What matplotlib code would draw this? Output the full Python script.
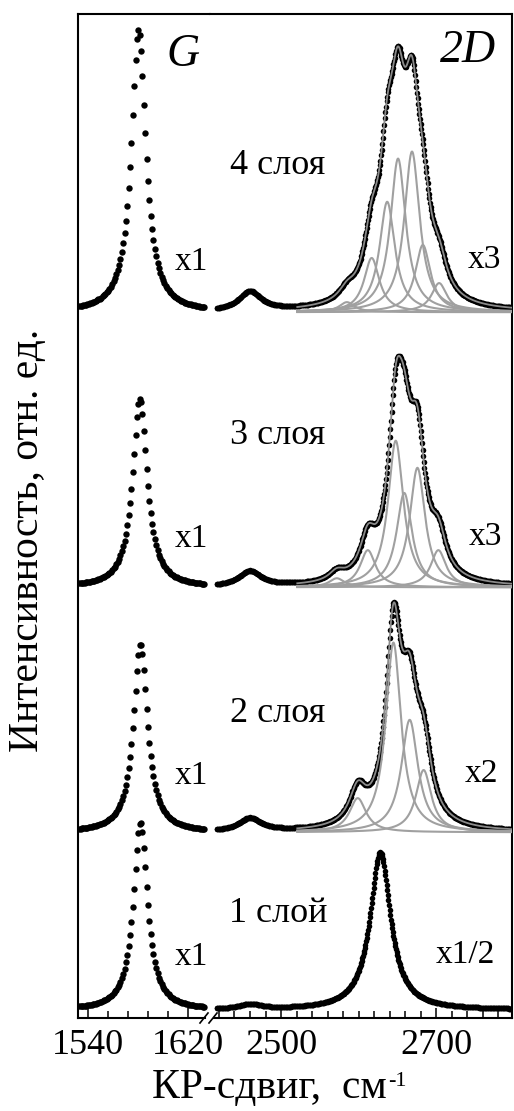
import numpy as np
import matplotlib
matplotlib.use('Agg')
import matplotlib.pyplot as plt
from matplotlib.lines import Line2D
from matplotlib.ticker import FixedLocator, NullFormatter

plt.rcParams['font.family'] = ['Liberation Serif', 'DejaVu Serif']

# ---- data (bottom to top: 1, 2, 3, 4 layers) ----
layers = ['1 слой', '2 слоя', '3 слоя', '4 слоя']
g_scale = ['x1', 'x1', 'x1', 'x1']
d_scale = ['x1/2', 'x2', 'x3', 'x3']
offsets = [0.8, 18.5, 42.9, 70.3]          # baseline of each spectrum

# G band (single Lorentzian per spectrum)
g_pos = [1582, 1582, 1581.5, 1580.5]
g_height = [18.7, 18.8, 18.8, 28.1]
g_fwhm = [13.5, 13.5, 14.0, 14.0]

# weak band near 2460 cm-1
band_pos = 2460
band_height = [0.5, 1.3, 1.5, 1.9]
band_fwhm = 34

# 2D band components (gray curves)
d_pos_1 = [2628]
d_height_1 = [15.7]
d_fwhm_1 = [32]

d_pos_2 = [2599, 2645, 2666, 2684]
d_height_2 = [3.4, 18.9, 11.2, 6.2]
d_fwhm_2 = [26, 24, 26, 24]

d_pos_3 = [2572, 2612, 2648, 2659, 2676, 2703]
d_height_3 = [0.9, 3.7, 14.6, 9.4, 11.9, 3.7]
d_fwhm_3 = [24, 24, 24, 24, 24, 24]

d_pos_4 = [2585, 2617, 2637, 2651, 2669, 2683, 2704]
d_height_4 = [1.0, 5.4, 11.0, 15.3, 16.0, 6.7, 2.9]
d_fwhm_4 = [24, 24, 24, 24, 24, 24, 24]

d_pos = [d_pos_1, d_pos_2, d_pos_3, d_pos_4]
d_height = [d_height_1, d_height_2, d_height_3, d_height_4]
d_fwhm = [d_fwhm_1, d_fwhm_2, d_fwhm_3, d_fwhm_4]
show_fit = [False, True, True, True]


def lorentz(x, x0, h, w):
    return h / (1 + (2 * (x - x0) / w) ** 2)


# spectrometer sampling
x_g = np.arange(1533, 1634, 1.1)
x_d = np.arange(2417, 2800, 0.8)
x_fit = np.arange(2521, 2798, 0.5)

W, H = 514, 1111
fig = plt.figure(figsize=(W / 100, H / 100), dpi=100)

L, R, B, T = 78 / W, 512 / W, 1 - 1018 / H, 1 - 14 / H
xb = 210 / W
ax1 = fig.add_axes([L, B, xb - L, T - B])
ax2 = fig.add_axes([xb, B, R - xb, T - B])

gray = '#a0a0a0'
for i in range(4):
    off = offsets[i]
    # G band
    yg = off + lorentz(x_g, g_pos[i], g_height[i], g_fwhm[i])
    ax1.plot(x_g, yg, 'o', color='black', ms=4.6, mew=0)

    # 2D region
    yd = off + lorentz(x_d, band_pos, band_height[i], band_fwhm)
    for p, h, w in zip(d_pos[i], d_height[i], d_fwhm[i]):
        yd = yd + lorentz(x_d, p, h, w)
    ax2.plot(x_d, yd, 'o', color='black', ms=4.0, mew=0)

    if show_fit[i]:
        total = np.zeros_like(x_fit) + off
        for p, h, w in zip(d_pos[i], d_height[i], d_fwhm[i]):
            comp = lorentz(x_fit, p, h, w)
            total += comp
            ax2.plot(x_fit, off + comp, color=gray, lw=1.5, zorder=3)
        ax2.plot(x_fit, total, color='#8a8a8a', lw=1.3, zorder=4)

for ax in (ax1, ax2):
    ax.set_ylim(0, 100)
    ax.tick_params(axis='y', left=False, right=False, labelleft=False)
    ax.tick_params(axis='x', which='both', direction='in', top=False,
                   labelsize=26, pad=8, width=1.1)
    ax.tick_params(axis='x', which='major', length=7)
    ax.tick_params(axis='x', which='minor', length=5)
    for s in ax.spines.values():
        s.set_linewidth(1.5)

ax1.set_xlim(1532, 1637.6)
ax2.set_xlim(2408.4, 2798)
ax1.spines['right'].set_visible(False)
ax2.spines['left'].set_visible(False)
ax1.spines['bottom'].set_bounds(1532, 1633.6)
ax2.spines['bottom'].set_bounds(2413.6, 2798)

ax1.xaxis.set_major_locator(FixedLocator([1540, 1620]))
ax1.xaxis.set_minor_locator(FixedLocator(np.arange(1540, 1621, 16)))
ax2.xaxis.set_major_locator(FixedLocator([2500, 2700]))
ax2.xaxis.set_minor_locator(FixedLocator(np.arange(2420, 2800, 20)))
ax1.xaxis.set_minor_formatter(NullFormatter())
ax2.xaxis.set_minor_formatter(NullFormatter())

# axis break marks
for x0 in (200, 209):
    fig.add_artist(Line2D([x0 / W, (x0 + 8) / W], [1 - 1023 / H, 1 - 1013 / H],
                          transform=fig.transFigure, color='black', lw=1.2))


def ftext(x, y, s, **kw):
    kw.setdefault('ha', 'center')
    return fig.text(x / W, 1 - y / H, s, va='center', **kw)


ftext(183, 55, 'G', fontsize=33, fontstyle='italic')
ftext(468, 51, '2D', fontsize=33, fontstyle='italic')

label_y = [913, 713, 435, 165]
scale_y = [957, 776, 539, 262]
d_scale_x = [465, 481, 485, 484]
for i in range(4):
    ftext(278, label_y[i], layers[i], fontsize=26)
    ftext(191, scale_y[i], g_scale[i], fontsize=24)
    ftext(d_scale_x[i], scale_y[i] - 2, d_scale[i], fontsize=24)

ftext(28, 540, 'Интенсивность, отн. ед.', fontsize=30, rotation=90)
xl = ftext(152, 1088, 'КР-сдвиг,  см', fontsize=30, ha='left')
# superscript right after the label, top level with the capitals
ax2.annotate('-1', xy=(1, 0.92), xycoords=xl, xytext=(1, 0),
             textcoords='offset points', ha='left', va='top',
             fontsize=16, annotation_clip=False)

fig.savefig('out.png', dpi=100, facecolor='white')
